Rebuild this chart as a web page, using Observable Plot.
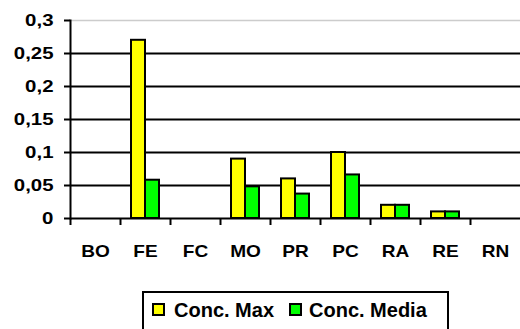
<!DOCTYPE html>
<html>
<head>
<meta charset="utf-8">
<script src="https://cdn.jsdelivr.net/npm/d3@7"></script>
<script src="https://cdn.jsdelivr.net/npm/@observablehq/plot@0.6"></script>
<style>
  html, body { margin: 0; padding: 0; background: #fff; }
  #wrap { position: relative; width: 520px; height: 329px; overflow: hidden; font-family: "Liberation Sans", Arial, sans-serif; }
  #legend { position: absolute; left: 142px; top: 291px; width: 307px; height: 60px; border: 2px solid #000; box-sizing: border-box; background: #fff; }
  .sw { position: absolute; width: 13px; height: 13px; border: 2px solid #000; box-sizing: border-box; }
  .lt { position: absolute; font-weight: bold; font-size: 20px; line-height: 20px; color: #000; white-space: nowrap; }
</style>
</head>
<body>
<div id="wrap"></div>
<script>
const categories = ["BO", "FE", "FC", "MO", "PR", "PC", "RA", "RE", "RN"];
const concMax   = [0, 0.27, 0, 0.09, 0.06, 0.10, 0.02, 0.01, 0];
const concMedia = [0, 0.058, 0, 0.048, 0.037, 0.066, 0.02, 0.01, 0];
const yTicks = [0, 0.05, 0.1, 0.15, 0.2, 0.25, 0.3];
const seriesNames = ["Conc. Max", "Conc. Media"];
const seriesColors = ["#ffff00", "#00ff00"];

const data = categories.map((c, i) => ({cat: c, max: concMax[i], media: concMedia[i]}));
const fmt = d => String(d).replace(".", ",");

const chart = Plot.plot({
  width: 520,
  height: 264,
  marginTop: 20,
  marginLeft: 70,
  marginRight: 0,
  marginBottom: 46,
  style: {fontFamily: '"Liberation Sans", Arial, sans-serif', fontWeight: "bold", fontSize: "17px", color: "#000", background: "#fff"},
  x: {domain: categories, padding: 0, label: null},
  y: {domain: [0, 0.3], label: null},
  marks: [
    Plot.ruleY(yTicks.filter(t => t > 0 && t < 0.3), {stroke: "#000", strokeWidth: 2}),
    Plot.ruleY([0.3], {stroke: "#cccccc", strokeWidth: 1.5}),
    Plot.barY(data, {x: "cat", y: "max", fill: seriesColors[0], stroke: "#000", strokeWidth: 2, insetLeft: 11, insetRight: 25}),
    Plot.barY(data, {x: "cat", y: "media", fill: seriesColors[1], stroke: "#000", strokeWidth: 2, insetLeft: 25, insetRight: 11}),
    Plot.ruleY([0], {stroke: "#000", strokeWidth: 2}),
    Plot.frame({anchor: "left", stroke: "#000", strokeWidth: 2}),
    Plot.axisY({ticks: yTicks, tickSize: 6, tickPadding: 11, tickFormat: fmt, strokeWidth: 2, stroke: "#000", fill: "#000", label: null}),
    Plot.axisX({tickSize: 7, tickFormat: () => "", dx: -25, strokeWidth: 2, stroke: "#000", label: null}),
    Plot.axisX({tickSize: 0, tickPadding: 26, fill: "#000", label: null})
  ]
});

const wrap = document.getElementById("wrap");
wrap.append(chart);

// Stretch axis label glyphs horizontally like the original rendering
function stretch(sel, k) {
  chart.querySelectorAll(sel).forEach(t => {
    const w = t.getComputedTextLength();
    if (w > 0) {
      t.setAttribute("textLength", (w * k).toFixed(1));
      t.setAttribute("lengthAdjust", "spacingAndGlyphs");
    }
  });
}
stretch('g[aria-label="y-axis tick label"] text', 1.2);
stretch('g[aria-label="x-axis tick label"] text', 1.12);

// Legend below the plot
const legend = document.createElement("div");
legend.id = "legend";
wrap.append(legend);
const legendX = [[8, 30], [145, 165]];
seriesNames.forEach((name, i) => {
  const sw = document.createElement("div");
  sw.className = "sw";
  sw.style.left = legendX[i][0] + "px";
  sw.style.top = "10px";
  sw.style.background = seriesColors[i];
  legend.append(sw);
  const t = document.createElement("div");
  t.className = "lt";
  t.style.left = legendX[i][1] + "px";
  t.style.top = "7px";
  t.textContent = name;
  legend.append(t);
});
</script>
</body>
</html>
